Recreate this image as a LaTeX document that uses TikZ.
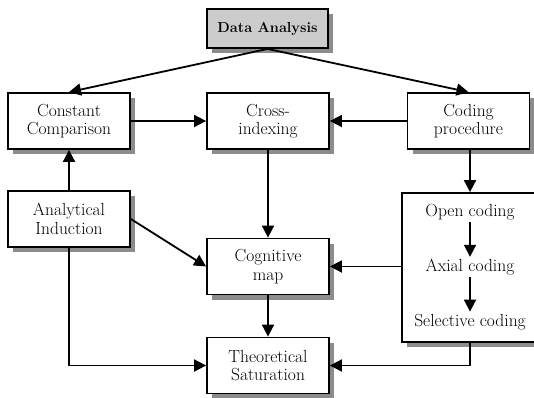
\documentclass[tikz,border=0pt]{standalone}
\usepackage{fontspec}
\usepackage{tikz}
\usepackage{xcolor}
\usetikzlibrary{arrows.meta,shadows}

\tikzset{
    box/.style={draw,line width=1.8pt,fill=white,minimum width=122pt,minimum height=56pt,
        align=center,font=\fontsize{17.5}{18.5}\selectfont,
        drop shadow={shadow xshift=5pt,shadow yshift=-5pt,fill=black!45,opacity=1}},
    flow/.style={line width=1.8pt,-{Triangle[length=12pt,width=12pt]}},
    steptext/.style={inner sep=2pt,font=\fontsize{17.5}{18.5}\selectfont}
}

\begin{document}
\begin{tikzpicture}[x=1pt,y=-1pt]
    \useasboundingbox (0,0) rectangle (534,397);
    % boxes
    \node [box,fill=black!20,minimum width=121pt,minimum height=39pt,font=\fontsize{14.5}{16}\selectfont\bfseries] (data) at (267.5,28.5) {Data Analysis};
    \node [box] (const) at (69,121) {Constant\\Comparison};
    \node [box] (cross) at (268,121) {Cross-\\indexing};
    \node [box] (coding) at (468.5,121) {Coding\\procedure};
    \node [box] (anal) at (69,219) {Analytical\\Induction};
    \node [box] (cog) at (268,266.5) {Cognitive\\map};
    \node [box] (theo) at (268,365.5) {Theoretical\\Saturation};
    \node [box,minimum width=158pt,minimum height=149pt] (steps) at (481,267.5) {};
    % coding steps
    \node [steptext] (open) at (470,211.7) {Open coding};
    \node [steptext] (axial) at (470,267) {Axial coding};
    \node [steptext] (select) at (470,321.7) {Selective coding};
    \foreach \a/\b in {open/axial,axial/select} { \draw [flow] (\a.south) -- (\b.north); }
    % arrows
    \draw [flow] (data.south) -- (const.north);
    \draw [flow] (data.south) -- (coding.north);
    \draw [flow] (const.east) -- (cross.west);
    \draw [flow] (coding.west) -- (cross.east);
    \draw [flow] (coding.south -| open) -- (open |- steps.north);
    \draw [flow] (anal.north) -- (const.south);
    \draw [flow] (cross.south) -- (cog.north);
    \draw [flow] (anal.east) -- (cog.west);
    \draw [flow] (cog.east -| steps.west) -- (cog.east);
    \draw [flow] (cog.south) -- (theo.north);
    \draw [flow] (anal.south) |- (theo.west);
    \draw [flow] (open |- steps.south) |- (theo.east);
\end{tikzpicture}
\end{document}
